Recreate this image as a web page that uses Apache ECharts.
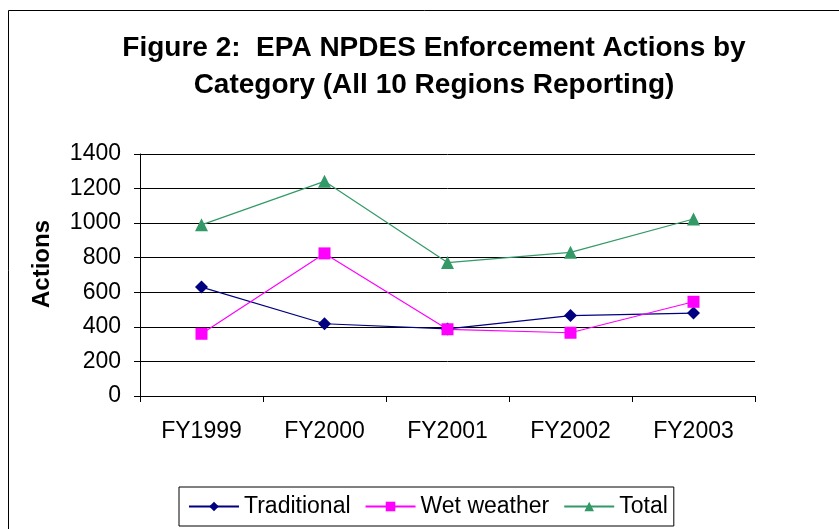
<!DOCTYPE html>
<html><head><meta charset="utf-8">
<script src="https://cdn.jsdelivr.net/npm/echarts@6/dist/echarts.min.js"></script>
<style>html,body{margin:0;padding:0;background:#fff}#c{width:839px;height:529px}</style>
</head><body><div id="c"></div>
<script>
const categories = ['FY1999','FY2000','FY2001','FY2002','FY2003'];
const traditional = [630, 418, 388, 465, 480];
const wetWeather = [360, 825, 386, 366, 545];
const total = [990, 1242, 772, 831, 1024];
const yTicks = [0, 200, 400, 600, 800, 1000, 1200, 1400];

const chart = echarts.init(document.getElementById('c'));
const font = 'Liberation Sans, Arial, sans-serif';
chart.setOption({
  animation: false,
  backgroundColor: '#fff',
  graphic: [{
    type: 'rect', shape: {x: 8.5, y: 10.5, width: 840, height: 540},
    style: {fill: 'none', stroke: '#000', lineWidth: 1}, silent: true, z: -1
  }],
  title: {
    text: 'Figure 2:  EPA NPDES Enforcement Actions by\nCategory (All 10 Regions Reporting)',
    left: 429, top: 25, textAlign: 'center',
    textStyle: {fontFamily: font, fontWeight: 'bold', fontSize: 28, lineHeight: 37, color: '#000'}
  },
  grid: {left: 140, right: 84, top: 154, bottom: 133},
  legend: {
    left: 179, top: 487,
    borderColor: '#000', borderWidth: 1, padding: [8, 6, 8, 9],
    itemWidth: 50, itemHeight: 12, itemGap: 14,
    textStyle: {fontFamily: font, fontSize: 23, color: '#000'},
    data: ['Traditional', 'Wet weather', 'Total']
  },
  xAxis: {
    type: 'category', data: categories, boundaryGap: true,
    axisLine: {lineStyle: {color: '#000', width: 1}},
    axisTick: {show: true, length: 6, lineStyle: {color: '#000'}},
    axisLabel: {fontFamily: font, fontSize: 23, color: '#000', margin: 24},
    splitLine: {show: false}
  },
  yAxis: {
    type: 'value', min: yTicks[0], max: yTicks[yTicks.length - 1], interval: 200,
    name: 'Actions', nameLocation: 'middle', nameGap: 86, nameRotate: 90,
    nameTextStyle: {fontFamily: font, fontWeight: 'bold', fontSize: 24, color: '#000', padding: [0, 0, 0, 22]},
    axisLine: {show: true, lineStyle: {color: '#000', width: 1}},
    axisTick: {show: true, length: 6, lineStyle: {color: '#000'}},
    axisLabel: {fontFamily: font, fontSize: 23, color: '#000', margin: 19, formatter: v => String(v)},
    splitLine: {show: true, lineStyle: {color: '#000', width: 1}}
  },
  series: [
    {name: 'Traditional', type: 'line', data: traditional, symbol: 'diamond', symbolSize: 13,
     lineStyle: {color: '#000080', width: 1.2}, itemStyle: {color: '#000080'}},
    {name: 'Wet weather', type: 'line', data: wetWeather, symbol: 'rect', symbolSize: 12,
     lineStyle: {color: '#FF00FF', width: 1.2}, itemStyle: {color: '#FF00FF'}},
    {name: 'Total', type: 'line', data: total, symbol: 'triangle', symbolSize: 13,
     lineStyle: {color: '#339966', width: 1.2}, itemStyle: {color: '#339966'}}
  ]
});
</script></body></html>
